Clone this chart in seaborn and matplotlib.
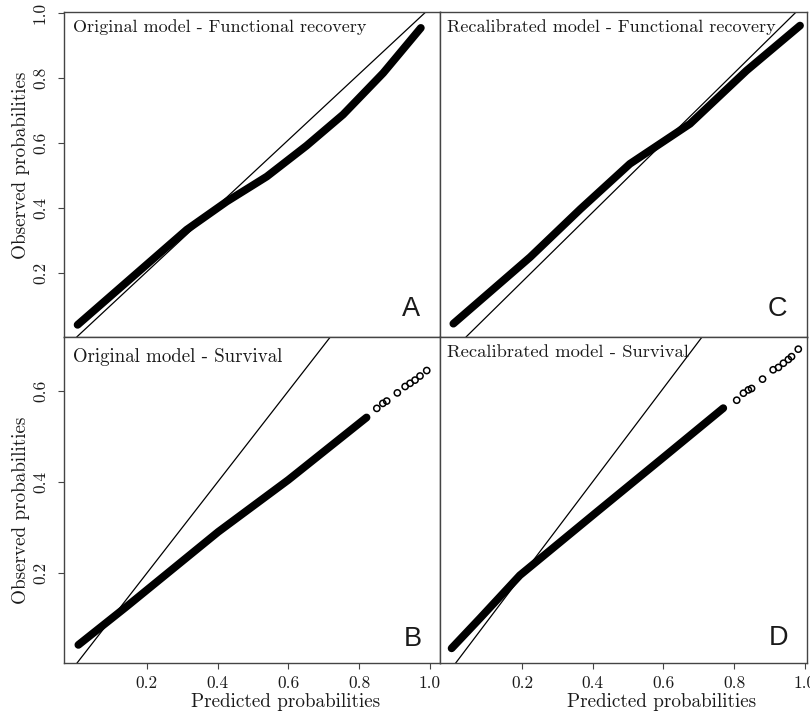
import matplotlib
matplotlib.use("Agg")
import matplotlib.pyplot as plt
import seaborn as sns

# ---- data ----
# A: Original model - Functional recovery
pred_orig_func = [0.005, 0.318, 0.433, 0.548, 0.662, 0.767, 0.882, 0.990]
obs_orig_func = [0.040, 0.333, 0.420, 0.497, 0.592, 0.688, 0.816, 0.955]

# C: Recalibrated model - Functional recovery
pred_recal_func = [0.006, 0.223, 0.365, 0.505, 0.675, 0.835, 0.986]
obs_recal_func = [0.080, 0.271, 0.409, 0.539, 0.654, 0.807, 0.936]

# B: Original model - Survival (dense part + sparse tail of individual points)
pred_orig_surv = [0.007, 0.143, 0.402, 0.600, 0.821]
obs_orig_surv = [0.043, 0.127, 0.291, 0.405, 0.542]
tail_pred_orig_surv = [0.850, 0.867, 0.878, 0.908, 0.930, 0.944, 0.958, 0.972, 0.991]
tail_obs_orig_surv = [0.562, 0.573, 0.578, 0.596, 0.610, 0.617, 0.624, 0.633, 0.645]

# D: Recalibrated model - Survival
pred_recal_surv = [0.001, 0.081, 0.194, 0.411, 0.600, 0.769]
obs_recal_surv = [0.044, 0.108, 0.200, 0.335, 0.452, 0.557]
tail_pred_recal_surv = [0.807, 0.826, 0.840, 0.849, 0.880, 0.910, 0.925, 0.939, 0.953, 0.962, 0.981]
tail_obs_recal_surv = [0.574, 0.589, 0.596, 0.599, 0.619, 0.639, 0.644, 0.653, 0.661, 0.667, 0.683]

titles = ["Original model - Functional recovery", "Recalibrated model - Functional recovery",
          "Original model - Survival", "Recalibrated model - Survival"]
letters = ["A", "C", "B", "D"]
x_ticks = [0.2, 0.4, 0.6, 0.8, 1.0]
y_ticks_top = [0.2, 0.4, 0.6, 0.8, 1.0]
y_ticks_bottom = [0.2, 0.4, 0.6]
x_label = "Predicted probabilities"
y_label = "Observed probabilities"

# ---- style ----
sns.set_theme(style="ticks")
plt.rcParams["font.family"] = ["cmr10", "DejaVu Serif"]
plt.rcParams["axes.formatter.use_mathtext"] = True

W, H = 810, 712
fig = plt.figure(figsize=(W / 100, H / 100), dpi=100)


def box(l, r, t, b):
    return [l / W, 1 - b / H, (r - l) / W, (b - t) / H]


axA = fig.add_axes(box(64, 440, 11.5, 337))
axC = fig.add_axes(box(440, 807, 11.5, 337))
axB = fig.add_axes(box(64, 440, 337, 663.3))
axD = fig.add_axes(box(440, 807, 337, 663.3))

TXT = "#1a1a1a"
panels = [
    (axA, pred_orig_func, obs_orig_func, None, None, (-0.034, 1.045), (0.0025, 1.0056)),
    (axC, pred_recal_func, obs_recal_func, None, None, (-0.0318, 1.0057), (0.0417, 0.9765)),
    (axB, pred_orig_surv, obs_orig_surv, tail_pred_orig_surv, tail_obs_orig_surv, (-0.0336, 1.0285), (0.0026, 0.7186)),
    (axD, pred_recal_surv, obs_recal_surv, tail_pred_recal_surv, tail_obs_recal_surv, (-0.0318, 1.0057), (0.012, 0.709)),
]

title_pos = [(0.023, 0.9365), (0.019, 0.936), (0.023, 0.924), (0.019, 0.94)]
title_size = [13, 13, 13.6, 13.4]
letter_pos = [(0.923, 0.064), (0.918, 0.063), (0.928, 0.054), (0.921, 0.056)]

for i, (ax, px, py, tx, ty, xl, yl) in enumerate(panels):
    ax.axline((0, 0), slope=1, color="black", linewidth=0.9, zorder=2)
    sns.lineplot(x=px, y=py, ax=ax, color="black", linewidth=5.6, estimator=None, sort=False,
                 solid_capstyle="round", solid_joinstyle="round", zorder=3)
    if tx is not None:
        sns.scatterplot(x=tx, y=ty, ax=ax, marker="o", s=20, facecolor="none",
                        edgecolor="black", linewidth=1.1, zorder=3)
    ax.set_xlim(*xl)
    ax.set_ylim(*yl)
    for sp in ax.spines.values():
        sp.set_visible(True)
        sp.set_color("#444444")
        sp.set_linewidth(1.0)
    ax.set_facecolor("white")
    ax.text(title_pos[i][0], title_pos[i][1], titles[i], transform=ax.transAxes,
            ha="left", va="baseline", fontsize=title_size[i], color=TXT)
    ax.text(letter_pos[i][0], letter_pos[i][1], letters[i], transform=ax.transAxes,
            ha="center", va="baseline", fontsize=19.5, color=TXT,
            family=["Liberation Sans", "DejaVu Sans"])
    ax.set_xlabel("")
    ax.set_ylabel("")

# ticks
for ax in (axA, axC):
    ax.tick_params(axis="x", bottom=False, labelbottom=False)
for ax in (axC, axD):
    ax.tick_params(axis="y", left=False, labelleft=False)
for ax in (axB, axD):
    ax.set_xticks(x_ticks)
    ax.set_xticklabels([f"{v:.1f}" for v in x_ticks])
    ax.tick_params(axis="x", direction="out", length=4.6, width=0.8, color="#444444",
                   pad=4.5, labelsize=12.5, labelcolor=TXT)
axA.set_yticks(y_ticks_top)
axA.set_yticklabels([f"{v:.1f}" for v in y_ticks_top])
axB.set_yticks(y_ticks_bottom)
axB.set_yticklabels([f"{v:.1f}" for v in y_ticks_bottom])
for ax in (axA, axB):
    ax.tick_params(axis="y", direction="out", length=4.6, width=0.8, color="#444444",
                   pad=7, labelsize=12.5, labelcolor=TXT, labelrotation=90)
    for lab in ax.get_yticklabels():
        lab.set_va("center")

# axis labels
for ax, yc in ((axA, 0.528), (axB, 0.468)):
    ax.set_ylabel(y_label, fontsize=13.8, color=TXT)
    ax.yaxis.set_label_coords(-0.114, yc)
    ax.yaxis.label.set_va("center")
for ax, xc in ((axB, 0.59), (axD, 0.605)):
    ax.set_xlabel(x_label, fontsize=13.8, color=TXT)
    ax.xaxis.set_label_coords(xc, -0.1465)
    ax.xaxis.label.set_va("bottom")

fig.savefig("out.png", dpi=100, facecolor="white")
